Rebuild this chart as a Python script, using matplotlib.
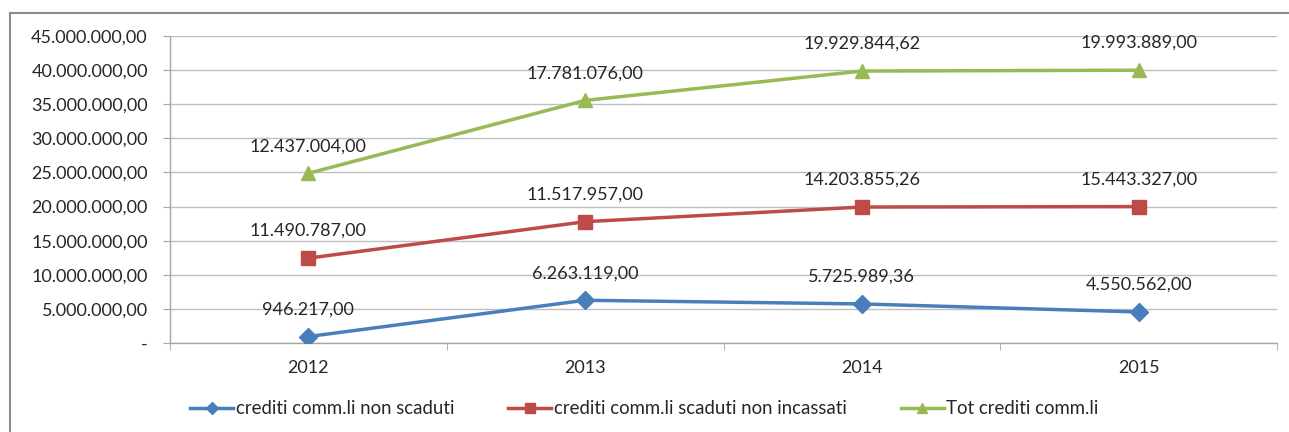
import numpy as np
import matplotlib
matplotlib.use("Agg")
import matplotlib.pyplot as plt
from matplotlib.lines import Line2D
from matplotlib.ticker import FuncFormatter

plt.rcParams['font.family'] = ['Lato', 'DejaVu Sans']

years = ["2012", "2013", "2014", "2015"]
non_scaduti = [946217.00, 6263119.00, 5725989.36, 4550562.00]
scaduti_non_incassati = [11490787.00, 11517957.00, 14203855.26, 15443327.00]
tot_crediti = [12437004.00, 17781076.00, 19929844.62, 19993889.00]

series = [
    ("crediti comm.li non scaduti", non_scaduti, "#4A7EBB", "D", 9),
    ("crediti comm.li scaduti non incassati", scaduti_non_incassati, "#BE4B48", "s", 10),
    ("Tot crediti comm.li", tot_crediti, "#98B954", "^", 10),
]


def it_fmt(v, decimals=2):
    s = f"{v:,.{decimals}f}"
    return s.replace(",", "X").replace(".", ",").replace("X", ".")


fig = plt.figure(figsize=(12.89, 4.32), dpi=100)
ax = fig.add_axes([170 / 1289, 1 - 343 / 432, (1277 - 170) / 1289, (343 - 36) / 432])

x = np.arange(len(years))
base = np.zeros(len(years))
handles = []
for name, vals, color, marker, ms in series:
    vals = np.asarray(vals)
    top = base + vals  # stacked line chart
    h, = ax.plot(x, top, color=color, lw=2.5, marker=marker, markersize=ms,
                 markeredgecolor=color, markerfacecolor=color, label=name, zorder=3)
    handles.append(h)
    for xi, yi, v in zip(x, top, vals):
        ax.annotate(it_fmt(v), (xi, yi), xytext=(0, 19.5), textcoords="offset points",
                    ha="center", va="center", fontsize=13, color="#262626", zorder=4)
    base = top

ax.set_xlim(-0.5, len(years) - 0.5)
ax.set_ylim(0, 45_000_000)
ax.set_yticks(np.arange(0, 45_000_001, 5_000_000))
ax.yaxis.set_major_formatter(FuncFormatter(lambda v, p: "-" if v == 0 else it_fmt(v)))
ax.set_xticks(x)
ax.set_xticklabels(years)
ax.set_xticks(np.arange(-0.5, len(years), 1.0), minor=True)

ax.grid(axis="y", color="#BFBFBF", lw=1.0, zorder=0)
for side in ["top", "right"]:
    ax.spines[side].set_visible(False)
for side in ["left", "bottom"]:
    ax.spines[side].set_color("#A6A6A6")
    ax.spines[side].set_linewidth(1.0)

ax.tick_params(axis="y", which="major", length=5, color="#A6A6A6", labelsize=13,
               labelcolor="#262626", pad=11)
ax.tick_params(axis="x", which="major", length=0, labelsize=13, labelcolor="#262626", pad=12)
ax.tick_params(axis="x", which="minor", length=5, color="#A6A6A6")

fig.legend(handles=handles, loc="center", bbox_to_anchor=(0.5, 1 - 409 / 432), ncol=3,
           frameon=False, fontsize=13.4, handlelength=2.3, columnspacing=2.9,
           handletextpad=0.15, markerscale=0.7, labelcolor="#262626")

# chart border
fig.add_artist(Line2D([10 / 1289, 10 / 1289], [0, 1 - 13 / 432], color="#8C8C8C", lw=1.5,
                      transform=fig.transFigure))
fig.add_artist(Line2D([10 / 1289, 1], [1 - 13 / 432, 1 - 13 / 432], color="#8C8C8C", lw=1.5,
                      transform=fig.transFigure))

fig.savefig("out.png", dpi=100, facecolor="white")
